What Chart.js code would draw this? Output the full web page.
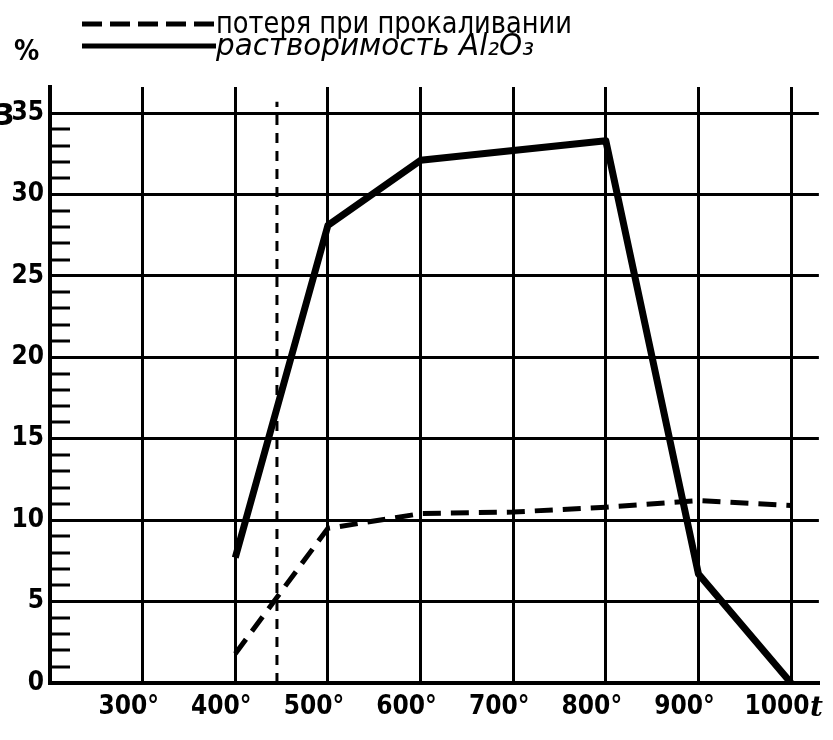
<!DOCTYPE html>
<html>
<head>
<meta charset="utf-8">
<script src="https://cdn.jsdelivr.net/npm/chart.js@4.4.1/dist/chart.umd.min.js"></script>
<style>
    body { margin: 0; background: #fff; }
    #box { width: 833px; height: 740px; }
</style>
</head>
<body>
<div id="box"><canvas id="myChart"></canvas></div>
<script>
// values
const xTicks = [300, 400, 500, 600, 700, 800, 900, 1000];
const yTicks = [0, 5, 10, 15, 20, 25, 30, 35];

const lossLabel = 'потеря при прокаливании';
const lossTemps = [400, 500, 600, 700, 800, 900, 1000];
const lossValues = [1.8, 9.5, 10.4, 10.5, 10.8, 11.2, 10.9];

const solubilityLabel = 'растворимость Al₂O₃';
const solubilityTemps = [400, 500, 600, 800, 900, 1000];
const solubilityValues = [7.7, 28.1, 32.1, 33.3, 6.7, 0];

const markerTemps = [445, 445];
const markerValues = [0, 35.7];

const tickFamily = "'Liberation Sans Narrow', 'DejaVu Sans Condensed', sans-serif";

function toPoints(xs, ys){
    return xs.map((x, i) => ({x: x, y: ys[i]}));
}

function fitText(ctx, text, x, y, width){
    let w = ctx.measureText(text).width;
    ctx.save();
    ctx.translate(x, y);
    ctx.scale(width / w, 1);
    ctx.fillText(text, 0, 0);
    ctx.restore();
}

const paperPlugin = {
    id: 'paper',
    beforeDraw(chart){
        const ctx = chart.ctx;
        ctx.save();
        ctx.fillStyle = '#fff';
        ctx.fillRect(0, 0, chart.width, chart.height);
        ctx.restore();
    },
    afterDraw(chart){
        const ctx = chart.ctx;
        const area = chart.chartArea;
        const yScale = chart.scales.y;
        ctx.save();
        ctx.strokeStyle = '#000';
        ctx.fillStyle = '#000';

        // small ticks every 1 % inside the plot
        ctx.lineWidth = 3;
        for (let v = 1; v < 35; v++) {
            if (v % 5 === 0) continue;
            let py = Math.round(yScale.getPixelForValue(v));
            ctx.beginPath();
            ctx.moveTo(area.left, py);
            ctx.lineTo(area.left + 20, py);
            ctx.stroke();
        }

        // legend
        const sets = chart.data.datasets;
        const rows = [{ds: sets[0], y: 24, base: 33, width: 356, font: "30px 'DejaVu Sans Condensed', sans-serif"},
                      {ds: sets[1], y: 46, base: 55, width: 318, font: "italic 30px 'DejaVu Sans Condensed', sans-serif"}];
        rows.forEach(r => {
            ctx.lineWidth = 5;
            ctx.setLineDash(r.ds.borderDash ? [20, 8] : []);
            ctx.beginPath();
            ctx.moveTo(82, r.y);
            ctx.lineTo(216, r.y);
            ctx.stroke();
            ctx.setLineDash([]);
            ctx.font = r.font;
            ctx.textBaseline = 'alphabetic';
            fitText(ctx, r.ds.label, 216, r.base, r.width);
        });

        ctx.font = "bold 28px 'DejaVu Sans Condensed', sans-serif";
        ctx.fillText('%', 14, 60);
        ctx.font = "bold 30px 'DejaVu Sans', sans-serif";
        ctx.fillText('3', -6, 125);
        ctx.font = "italic bold 28px 'DejaVu Serif', serif";
        ctx.fillText('t', 810, 716);
        ctx.restore();
    }
};

new Chart('myChart', {
    type: 'line',
    data: {
        datasets: [{
            label: lossLabel,
            data: toPoints(lossTemps, lossValues),
            borderColor: '#000',
            borderWidth: 5,
            borderDash: [18, 10],
            pointRadius: 0,
            fill: false
        }, {
            label: solubilityLabel,
            data: toPoints(solubilityTemps, solubilityValues),
            borderColor: '#000',
            borderWidth: 7,
            borderJoinStyle: 'round',
            pointRadius: 0,
            fill: false
        }, {
            label: 'marker',
            data: toPoints(markerTemps, markerValues),
            borderColor: '#000',
            borderWidth: 3,
            borderDash: [10, 8],
            pointRadius: 0,
            fill: false
        }]
    },
    options: {
        responsive: true,
        maintainAspectRatio: false,
        animation: false,
        layout: { padding: { top: 87, right: 10, left: 0, bottom: 0 } },
        plugins: {
            legend: { display: false },
            tooltip: { enabled: false }
        },
        scales: {
            x: {
                type: 'linear',
                min: 200,
                max: 1030,
                afterBuildTicks: axis => { axis.ticks = xTicks.map(v => ({value: v})); },
                afterFit: axis => { axis.height = 57; },
                grid: { color: '#000', lineWidth: 3, drawTicks: false },
                border: { color: '#000', width: 4 },
                ticks: {
                    color: '#000',
                    font: { family: tickFamily, size: 26, weight: 'bold' },
                    padding: 9,
                    labelOffset: -14,
                    maxRotation: 0,
                    callback: v => v === 1000 ? '1000' : v + '°'
                }
            },
            y: {
                min: 0,
                max: 36.6,
                afterBuildTicks: axis => { axis.ticks = yTicks.map(v => ({value: v})); },
                afterFit: axis => { axis.width = 50; },
                grid: { color: '#000', lineWidth: 3, drawTicks: false },
                border: { color: '#000', width: 4 },
                ticks: {
                    color: '#000',
                    font: { family: tickFamily, size: 26, weight: 'bold' },
                    padding: 6
                }
            }
        }
    },
    plugins: [paperPlugin]
});
</script>
</body>
</html>
